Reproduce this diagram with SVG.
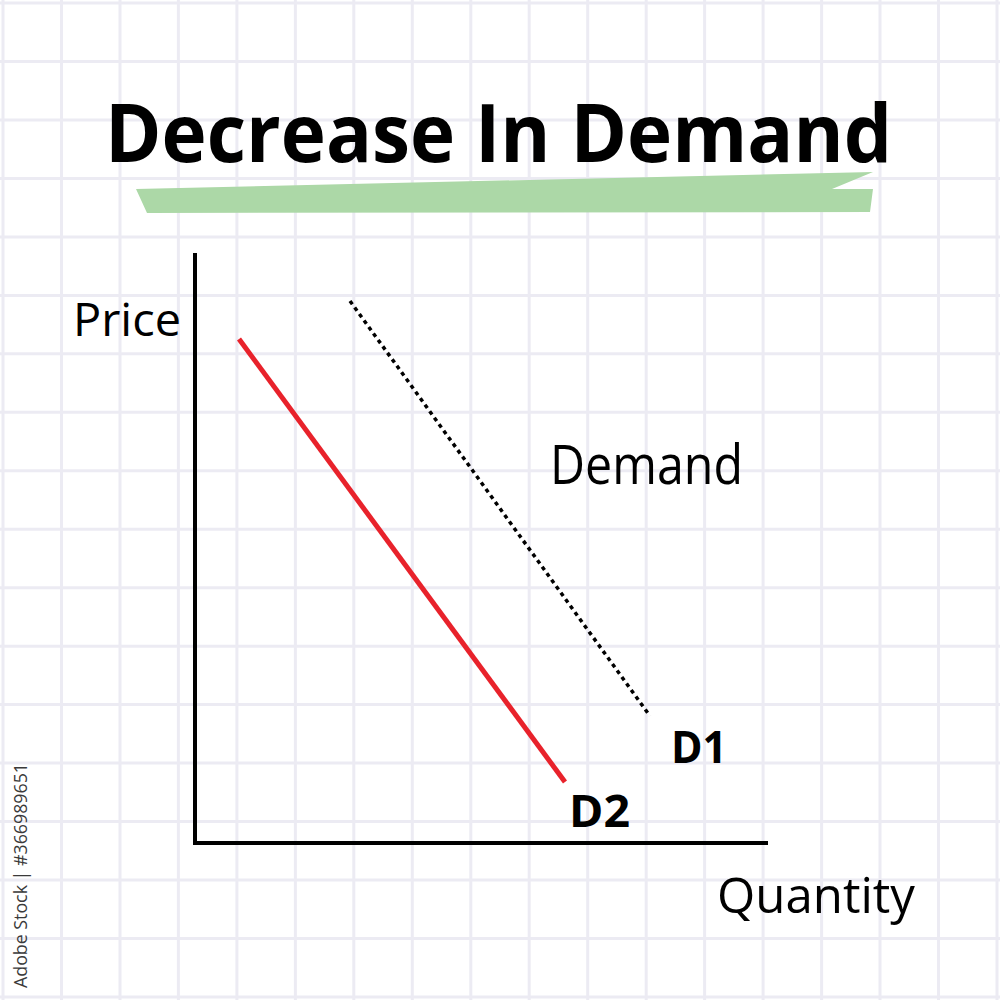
<svg xmlns="http://www.w3.org/2000/svg" width="1000" height="1000" viewBox="0 0 1000 1000">
<defs>
<style>
.grid line{stroke:#ecebf3;stroke-width:3}
.t{font-family:"Open Sans","Liberation Sans",sans-serif;fill:#000}
.b{font-weight:bold}
.axis{stroke:#000;stroke-width:4;fill:none}
</style>
</defs>
<rect x="0" y="0" width="1000" height="1000" fill="#ffffff"/>
<g class="grid" id="grid">
<line x1="3" y1="0" x2="3" y2="1000"/><line x1="61.5" y1="0" x2="61.5" y2="1000"/><line x1="120" y1="0" x2="120" y2="1000"/><line x1="178.4" y1="0" x2="178.4" y2="1000"/><line x1="236.9" y1="0" x2="236.9" y2="1000"/><line x1="295.4" y1="0" x2="295.4" y2="1000"/><line x1="353.8" y1="0" x2="353.8" y2="1000"/><line x1="412.3" y1="0" x2="412.3" y2="1000"/><line x1="470.8" y1="0" x2="470.8" y2="1000"/><line x1="529.2" y1="0" x2="529.2" y2="1000"/><line x1="587.7" y1="0" x2="587.7" y2="1000"/><line x1="646.2" y1="0" x2="646.2" y2="1000"/><line x1="704.6" y1="0" x2="704.6" y2="1000"/><line x1="763.1" y1="0" x2="763.1" y2="1000"/><line x1="821.6" y1="0" x2="821.6" y2="1000"/><line x1="880" y1="0" x2="880" y2="1000"/><line x1="938.5" y1="0" x2="938.5" y2="1000"/><line x1="997" y1="0" x2="997" y2="1000"/>
<line y1="3" x1="0" y2="3" x2="1000"/><line y1="61.5" x1="0" y2="61.5" x2="1000"/><line y1="120" x1="0" y2="120" x2="1000"/><line y1="178.4" x1="0" y2="178.4" x2="1000"/><line y1="236.9" x1="0" y2="236.9" x2="1000"/><line y1="295.4" x1="0" y2="295.4" x2="1000"/><line y1="353.8" x1="0" y2="353.8" x2="1000"/><line y1="412.3" x1="0" y2="412.3" x2="1000"/><line y1="470.8" x1="0" y2="470.8" x2="1000"/><line y1="529.2" x1="0" y2="529.2" x2="1000"/><line y1="587.7" x1="0" y2="587.7" x2="1000"/><line y1="646.2" x1="0" y2="646.2" x2="1000"/><line y1="704.6" x1="0" y2="704.6" x2="1000"/><line y1="763.1" x1="0" y2="763.1" x2="1000"/><line y1="821.6" x1="0" y2="821.6" x2="1000"/><line y1="880" x1="0" y2="880" x2="1000"/><line y1="938.5" x1="0" y2="938.5" x2="1000"/><line y1="997" x1="0" y2="997" x2="1000"/>
</g>
<g id="title">
<polygon points="136,189 873,172 832,189 873,189 870,212 147,213" fill="#acd8a7"/>
<text class="t b" x="105" y="162" font-size="80" textLength="787" lengthAdjust="spacingAndGlyphs">Decrease In Demand</text>
</g>
<g id="axes">
<polyline class="axis" points="195,253 195,843 768,843"/>
<text class="t" x="73" y="336" font-size="46" textLength="108" lengthAdjust="spacingAndGlyphs">Price</text>
<text class="t" x="717" y="913" font-size="50" textLength="198" lengthAdjust="spacingAndGlyphs">Quantity</text>
</g>
<g id="connectors">
<line id="d1-line" x1="350" y1="301" x2="650" y2="716" stroke="#000" stroke-width="3.5" stroke-dasharray="4 4"/>
<line id="d2-line" x1="239" y1="339" x2="565" y2="782" stroke="#e8222b" stroke-width="5"/>
</g>
<g id="label-demand"><text class="t" x="550" y="484" font-size="54" textLength="193" lengthAdjust="spacingAndGlyphs">Demand</text></g>
<g id="label-d1"><text class="t b" x="671" y="763" font-size="44" textLength="56" lengthAdjust="spacingAndGlyphs">D1</text></g>
<g id="label-d2"><text class="t b" x="569" y="827" font-size="44" textLength="61" lengthAdjust="spacingAndGlyphs">D2</text></g>
<g id="watermark"><text class="t" transform="translate(27,988) rotate(-90)" font-size="19" textLength="225" lengthAdjust="spacingAndGlyphs" style="fill:#3a3a3a">Adobe Stock | #366989651</text></g>
</svg>
